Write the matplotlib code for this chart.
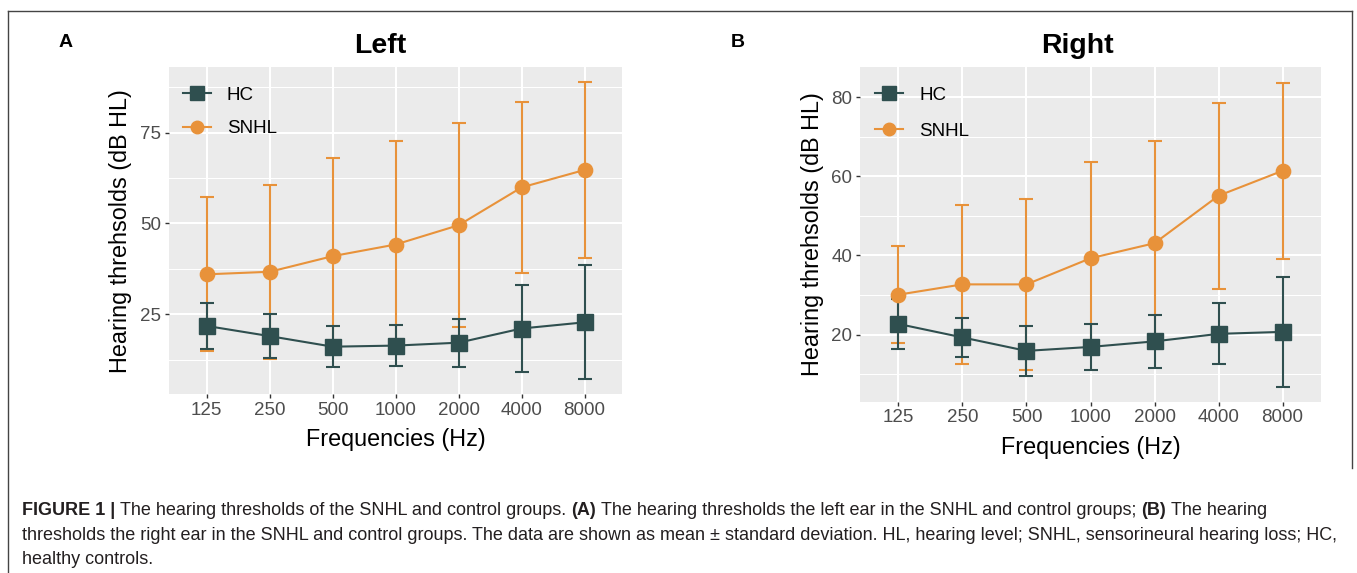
import matplotlib
matplotlib.use("Agg")
import matplotlib.pyplot as plt
from matplotlib.lines import Line2D
from matplotlib.ticker import FixedLocator, AutoMinorLocator
import numpy as np

# ---------------- data ----------------
freqs = ["125", "250", "500", "1000", "2000", "4000", "8000"]
group_names = ["HC", "SNHL"]

left_hc_mean = [21.8, 19.0, 16.1, 16.4, 17.2, 21.1, 22.8]
left_hc_sd = [6.4, 6.0, 5.6, 5.7, 6.6, 12.0, 15.7]
left_snhl_mean = [36.0, 36.7, 41.0, 44.2, 49.5, 59.9, 64.7]
left_snhl_sd = [21.2, 23.9, 26.9, 28.4, 28.1, 23.4, 24.3]

right_hc_mean = [22.7, 19.3, 15.9, 16.9, 18.3, 20.2, 20.7]
right_hc_sd = [6.4, 4.9, 6.4, 5.8, 6.6, 7.7, 13.8]
right_snhl_mean = [30.1, 32.7, 32.7, 39.3, 43.1, 55.1, 61.4]
right_snhl_sd = [12.3, 20.1, 21.6, 24.2, 25.7, 23.5, 22.3]

left_yticks = [25, 50, 75]
right_yticks = [20, 40, 60, 80]

panel_titles = ["Left", "Right"]
panel_letters = ["A", "B"]
x_title = "Frequencies (Hz)"
y_title = "Hearing threhsolds (dB HL)"

caption_lines = [
    [("FIGURE 1 |", True), ("The hearing thresholds of the SNHL and control groups.", False),
     ("(A)", True), ("The hearing thresholds the left ear in the SNHL and control groups;", False),
     ("(B)", True), ("The hearing", False)],
    [("thresholds the right ear in the SNHL and control groups. The data are shown as mean \u00b1 "
      "standard deviation. HL, hearing level; SNHL, sensorineural hearing loss; HC,", False)],
    [("healthy controls.", False)],
]

# ---------------- style ----------------
HC_COLOR = "#2F4F4F"
SNHL_COLOR = "#E8923A"
PANEL_BG = "#EBEBEB"
FONT = "Liberation Sans"
W, H = 1357, 573
DPI = 100

plt.rcParams["font.family"] = [FONT, "DejaVu Sans"]

fig = plt.figure(figsize=(W / DPI, H / DPI), dpi=DPI)
fig.patch.set_facecolor("white")


def px_rect(x0, y0, x1, y1):
    return [x0 / W, 1 - y1 / H, (x1 - x0) / W, (y1 - y0) / H]


def draw_panel(rect, hc_m, hc_s, sn_m, sn_s, yticks, leg_anchor, leg_spacing):
    ax = fig.add_axes(rect)
    ax.set_facecolor(PANEL_BG)
    x = np.arange(len(freqs))
    hc_m, hc_s, sn_m, sn_s = map(np.asarray, (hc_m, hc_s, sn_m, sn_s))
    lo = min((hc_m - hc_s).min(), (sn_m - sn_s).min())
    hi = max((hc_m + hc_s).max(), (sn_m + sn_s).max())
    pad = (hi - lo) * 0.05
    ax.set_ylim(lo - pad, hi + pad)
    ax.set_xlim(-0.6, len(freqs) - 1 + 0.6)

    ax.yaxis.set_major_locator(FixedLocator(yticks))
    ax.yaxis.set_minor_locator(AutoMinorLocator(2))
    ax.set_xticks(x)
    ax.set_xticklabels(freqs)
    ax.grid(which="major", color="white", lw=1.45, zorder=0)
    ax.grid(which="minor", axis="y", color="white", lw=0.75, zorder=0)
    ax.set_axisbelow(True)
    for s in ax.spines.values():
        s.set_visible(False)
    ax.tick_params(which="major", length=3.0, width=1.0, color="#333333",
                   labelsize=13.5, labelcolor="#4D4D4D", pad=2.5)
    ax.tick_params(which="minor", length=0)

    ekw = dict(fmt="none", elinewidth=1.5, capsize=4.8, capthick=1.5)
    ax.errorbar(x, sn_m, yerr=sn_s, ecolor=SNHL_COLOR, zorder=2, **ekw)
    ax.errorbar(x, hc_m, yerr=hc_s, ecolor=HC_COLOR, zorder=3, **ekw)
    ax.plot(x, hc_m, color=HC_COLOR, lw=1.5, zorder=4)
    ax.plot(x, sn_m, color=SNHL_COLOR, lw=1.5, zorder=4)
    ax.plot(x, hc_m, ls="none", marker="s", ms=11, color=HC_COLOR, zorder=5)
    ax.plot(x, sn_m, ls="none", marker="o", ms=10.3, color=SNHL_COLOR, zorder=5)

    handles = [
        Line2D([0], [0], color=HC_COLOR, lw=1.5, marker="s", ms=9.5),
        Line2D([0], [0], color=SNHL_COLOR, lw=1.5, marker="o", ms=9.0),
    ]
    ax.legend(handles, group_names, loc="upper left", bbox_to_anchor=leg_anchor,
              frameon=False, fontsize=13.5, handlelength=1.5, handletextpad=0.85,
              labelspacing=leg_spacing, borderpad=0, borderaxespad=0)
    return ax


axL = draw_panel(px_rect(169, 66.7, 622.3, 394.3), left_hc_mean, left_hc_sd,
                 left_snhl_mean, left_snhl_sd, left_yticks, (0.030, 0.939), 0.87)
axR = draw_panel(px_rect(860, 67.3, 1321, 401.7), right_hc_mean, right_hc_sd,
                 right_snhl_mean, right_snhl_sd, right_yticks, (0.0325, 0.9425), 1.0)


def ftext(xp, yp, s, **kw):
    return fig.text(xp / W, 1 - yp / H, s, **kw)


# axis titles
ftext(395.7, 446, x_title, ha="center", va="baseline", fontsize=16.8, color="black")
ftext(1090.5, 454, x_title, ha="center", va="baseline", fontsize=16.8, color="black")
ftext(121, 231, y_title, ha="center", va="center", rotation=90, fontsize=16.8, color="black")
ftext(813, 234, y_title, ha="center", va="center", rotation=90, fontsize=16.8, color="black")

# panel titles and letters
ftext(380, 53, panel_titles[0], ha="center", va="baseline", fontsize=20.5, fontweight="bold")
ftext(1077, 53, panel_titles[1], ha="center", va="baseline", fontsize=20.5, fontweight="bold")
ftext(66, 47, panel_letters[0], ha="center", va="baseline", fontsize=14, fontweight="bold")
ftext(738, 47, panel_letters[1], ha="center", va="baseline", fontsize=14, fontweight="bold")

# border
border_kw = dict(color="#444444", lw=1.0, transform=fig.transFigure)
fig.add_artist(Line2D([8 / W, 1352 / W], [1 - 11 / H, 1 - 11 / H], **border_kw))
fig.add_artist(Line2D([8 / W, 8 / W], [1 - 11 / H, 0], **border_kw))
fig.add_artist(Line2D([1352 / W, 1352 / W], [1 - 11 / H, 1 - 468 / H], **border_kw))

# caption: fit line 2 to its measured width
renderer = fig.canvas.get_renderer()
CAP_COLOR = "#231F20"


def width_of(s, size, bold):
    t = fig.text(0, 0, s, fontsize=size, fontweight="bold" if bold else "normal")
    w = t.get_window_extent(renderer=renderer).width
    t.remove()
    return w


ref_w = width_of(caption_lines[1][0][0], 12, False)
cap_size = 12 * (1338 - 22) / ref_w


def space_w(bold):
    return width_of("x x", cap_size, bold) - width_of("xx", cap_size, bold)


baselines = [515, 540, 564]
for line, yb in zip(caption_lines, baselines):
    xp = 22
    for s, bold in line:
        t = ftext(xp, yb, s, ha="left", va="baseline", fontsize=cap_size,
                  fontweight="bold" if bold else "normal", color=CAP_COLOR)
        xp += t.get_window_extent(renderer=renderer).width + space_w(bold)

fig.savefig("out.png", dpi=DPI, facecolor="white")
